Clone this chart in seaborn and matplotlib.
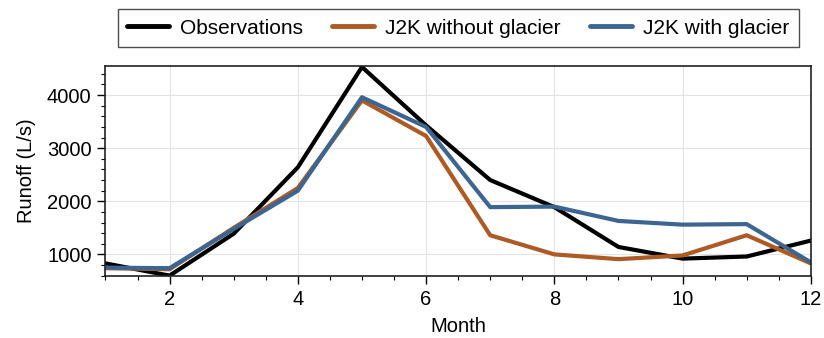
import numpy as np
import pandas as pd
import matplotlib.pyplot as plt
import seaborn as sns
from matplotlib.ticker import MultipleLocator

# monthly runoff (L/s)
months = [1, 2, 3, 4, 5, 6, 7, 8, 9, 10, 11, 12]
observations = [830, 600, 1390, 2640, 4530, 3430, 2400, 1890, 1140, 920, 960, 1260]
without_glacier = [740, 720, 1500, 2250, 3900, 3230, 1360, 1000, 910, 980, 1360, 830]
with_glacier = [750, 740, 1480, 2200, 3960, 3400, 1890, 1900, 1630, 1560, 1570, 850]

series_names = ['Observations', 'J2K without glacier', 'J2K with glacier']
colors = ['#000000', '#ad5a24', '#3d6591']

df = pd.DataFrame({
    'Month': months * 3,
    'Runoff': observations + without_glacier + with_glacier,
    'series': np.repeat(series_names, len(months)),
})

sns.set_style('ticks')
plt.rcParams['font.family'] = ['Liberation Sans', 'DejaVu Sans']
plt.rcParams['text.color'] = 'black'
plt.rcParams['axes.labelcolor'] = 'black'
plt.rcParams['xtick.color'] = 'black'
plt.rcParams['ytick.color'] = 'black'

fig, ax = plt.subplots(figsize=(8.24, 3.38), dpi=100)
sns.lineplot(data=df, x='Month', y='Runoff', hue='series', palette=colors,
             hue_order=series_names, linewidth=3.0, ax=ax)

ax.set_xlim(1, 12)
ax.set_ylim(590, 4550)
ax.xaxis.set_major_locator(MultipleLocator(2))
ax.xaxis.set_minor_locator(MultipleLocator(0.5))
ax.yaxis.set_major_locator(MultipleLocator(1000))
ax.yaxis.set_minor_locator(MultipleLocator(200))
ax.tick_params(which='major', length=6, width=1.0, labelsize=14.5, pad=4)
ax.tick_params(which='minor', length=3, width=0.8)
ax.grid(True, color='#e3e3e3', linewidth=0.8)
ax.set_axisbelow(True)
for s in ax.spines.values():
    s.set_linewidth(1.2)
    s.set_color('#222222')
ax.set_xlabel('Month', fontsize=14.5, labelpad=6)
ax.set_ylabel('Runoff (L/s)', fontsize=14.5, labelpad=8)

leg = ax.legend(loc='lower center', bbox_to_anchor=(0.5, 1.04), ncol=3,
                frameon=True, fancybox=False, edgecolor='#222222',
                fontsize=15, handlelength=2.0, columnspacing=1.4,
                borderpad=0.45, handletextpad=0.55)
leg.get_frame().set_linewidth(1.0)
for line in leg.get_lines():
    line.set_linewidth(3.5)

fig.subplots_adjust(left=0.128, right=0.984, top=0.805, bottom=0.183)
fig.savefig('out.png', dpi=100)
